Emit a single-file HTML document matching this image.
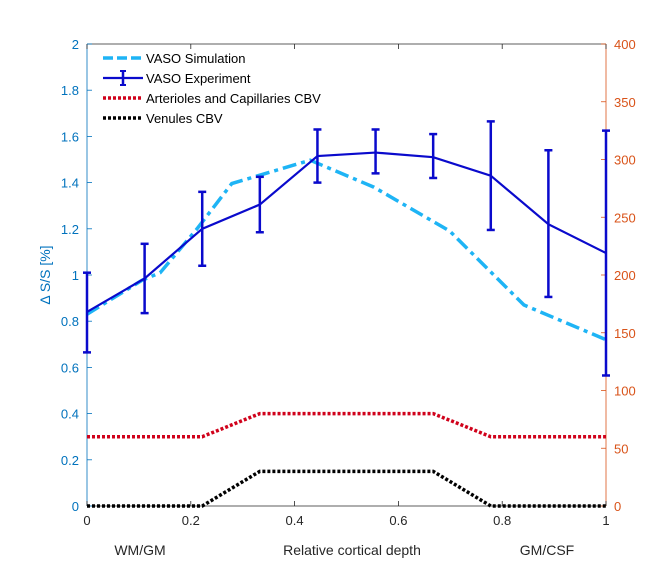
<!DOCTYPE html>
<html><head><meta charset="utf-8"><style>
body{margin:0;background:#fff;}
svg text{font-family:"Liberation Sans",Arial,sans-serif;}
</style></head><body>
<svg id="c" width="672" height="568" xmlns="http://www.w3.org/2000/svg"></svg>
<script>
const expX=[0,0.111,0.222,0.333,0.444,0.556,0.667,0.778,0.889,1];
const expY=[0.84,0.985,1.2,1.305,1.515,1.53,1.51,1.43,1.22,1.095];
const expHi=[1.01,1.135,1.36,1.425,1.63,1.63,1.61,1.665,1.54,1.625];
const expLo=[0.665,0.835,1.04,1.185,1.40,1.44,1.42,1.195,0.905,0.565];
const simX=[0,0.106,0.141,0.212,0.279,0.43,0.553,0.699,0.842,1];
const simY=[0.83,0.977,1.01,1.20,1.396,1.497,1.38,1.19,0.87,0.72];
const artX=[0,0.222,0.333,0.667,0.778,1];
const artY=[0.3,0.3,0.4,0.4,0.3,0.3];
const venX=[0,0.222,0.333,0.667,0.778,1];
const venY=[0,0,0.15,0.15,0,0];
const xTicks=[0,0.2,0.4,0.6,0.8,1];
const yTicks=[0,0.2,0.4,0.6,0.8,1,1.2,1.4,1.6,1.8,2];
const y2Ticks=[0,50,100,150,200,250,300,350,400];

const NS="http://www.w3.org/2000/svg";
const svg=document.getElementById('c');
const L=87,R=606,T=44,B=506;
const sx=v=>L+v*(R-L), sy=v=>B-v/2*(B-T), sy2=v=>B-v/400*(B-T);
function mk(tag,a,parent){const e=document.createElementNS(NS,tag);for(const k in a)e.setAttribute(k,a[k]);(parent||svg).appendChild(e);return e;}
function txt(s,a){const e=mk('text',a);e.textContent=s;return e;}
const BL='#0072BD',OR='#D95319';
// axes box
let e=mk('line',{x1:L,y1:T,x2:R,y2:T,stroke:'#262626','stroke-width':0.8});


e=mk('line',{x1:L,y1:B,x2:R,y2:B,stroke:'#262626','stroke-width':0.8});


e=mk('line',{x1:L,y1:T,x2:L,y2:B,stroke:BL,'stroke-width':0.8});


e=mk('line',{x1:R,y1:T,x2:R,y2:B,stroke:OR,'stroke-width':0.8});


xTicks.forEach(v=>{
 mk('line',{x1:sx(v),y1:B,x2:sx(v),y2:B-5,stroke:'#262626','stroke-width':0.8});
 mk('line',{x1:sx(v),y1:T,x2:sx(v),y2:T+5,stroke:'#262626','stroke-width':0.8});
 const t=txt(String(v),{x:sx(v),y:B+19,'text-anchor':'middle','font-size':13,fill:'#262626'});
 
 
});
yTicks.forEach(v=>{
 mk('line',{x1:L,y1:sy(v),x2:L+5,y2:sy(v),stroke:BL,'stroke-width':0.8});
 const t=txt(String(v),{x:L-8,y:sy(v)+5,'text-anchor':'end','font-size':13,fill:BL});
 
 
});
y2Ticks.forEach(v=>{
 mk('line',{x1:R,y1:sy2(v),x2:R-5,y2:sy2(v),stroke:OR,'stroke-width':0.8});
 const t=txt(String(v),{x:R+8,y:sy2(v)+5,'font-size':13,fill:OR});
 
 
});
e=txt('WM/GM',{x:140,y:555,'text-anchor':'middle','font-size':14,fill:'#262626'});


e=txt('Relative cortical depth',{x:352,y:555,'text-anchor':'middle','font-size':14,fill:'#262626'});


e=txt('GM/CSF',{x:547,y:555,'text-anchor':'middle','font-size':14,fill:'#262626'});


e=txt('Δ S/S [%]',{x:0,y:0,'text-anchor':'middle','font-size':14,fill:BL,transform:'translate(50,275) rotate(-90)'});


const pts=(X,Y)=>X.map((x,i)=>sx(x)+','+sy(Y[i])).join(' ');
e=mk('polyline',{points:pts(artX,artY),fill:'none',stroke:'#D0021B','stroke-width':3.5,'stroke-dasharray':'3 2'});


e=mk('polyline',{points:pts(venX,venY),fill:'none',stroke:'#000','stroke-width':3.5,'stroke-dasharray':'3 2'});


e=mk('polyline',{points:pts(simX,simY),fill:'none',stroke:'#1EB4F5','stroke-width':3.5,'stroke-dasharray':'14 5 4 5'});


e=mk('polyline',{points:pts(expX,expY),fill:'none',stroke:'#0A0ACC','stroke-width':2.2});


expX.forEach((x,i)=>{
 const g=mk('g',{stroke:'#0A0ACC','stroke-width':2.5});
 
 
 mk('line',{x1:sx(x),y1:sy(expHi[i]),x2:sx(x),y2:sy(expLo[i])},g);
 mk('line',{x1:sx(x)-4,y1:sy(expHi[i]),x2:sx(x)+4,y2:sy(expHi[i])},g);
 mk('line',{x1:sx(x)-4,y1:sy(expLo[i]),x2:sx(x)+4,y2:sy(expLo[i])},g);
});
// legend
const lg=mk('g',{});


const items=[['VASO Simulation','#1EB4F5','10 4'],['VASO Experiment','#0A0ACC',''],['Arterioles and Capillaries CBV','#D0021B','3 2'],['Venules CBV','#000','3 2']];
items.forEach((it,i)=>{
 const y=58+i*20;
 const l=mk('line',{x1:103,y1:y,x2:143,y2:y,stroke:it[1],'stroke-width':it[2]?3.5:2.2,'stroke-dasharray':it[2]},lg);
 if(i==1){mk('line',{x1:123,y1:y-7,x2:123,y2:y+7,stroke:it[1],'stroke-width':2.5},lg);mk('line',{x1:120,y1:y-7,x2:126,y2:y-7,stroke:it[1],'stroke-width':2},lg);mk('line',{x1:120,y1:y+7,x2:126,y2:y+7,stroke:it[1],'stroke-width':2},lg);}
 const t=txt(it[0],{x:146,y:y+5,'font-size':13,fill:'#000'});
 lg.appendChild(t);
 
 
});
</script>
</body></html>
